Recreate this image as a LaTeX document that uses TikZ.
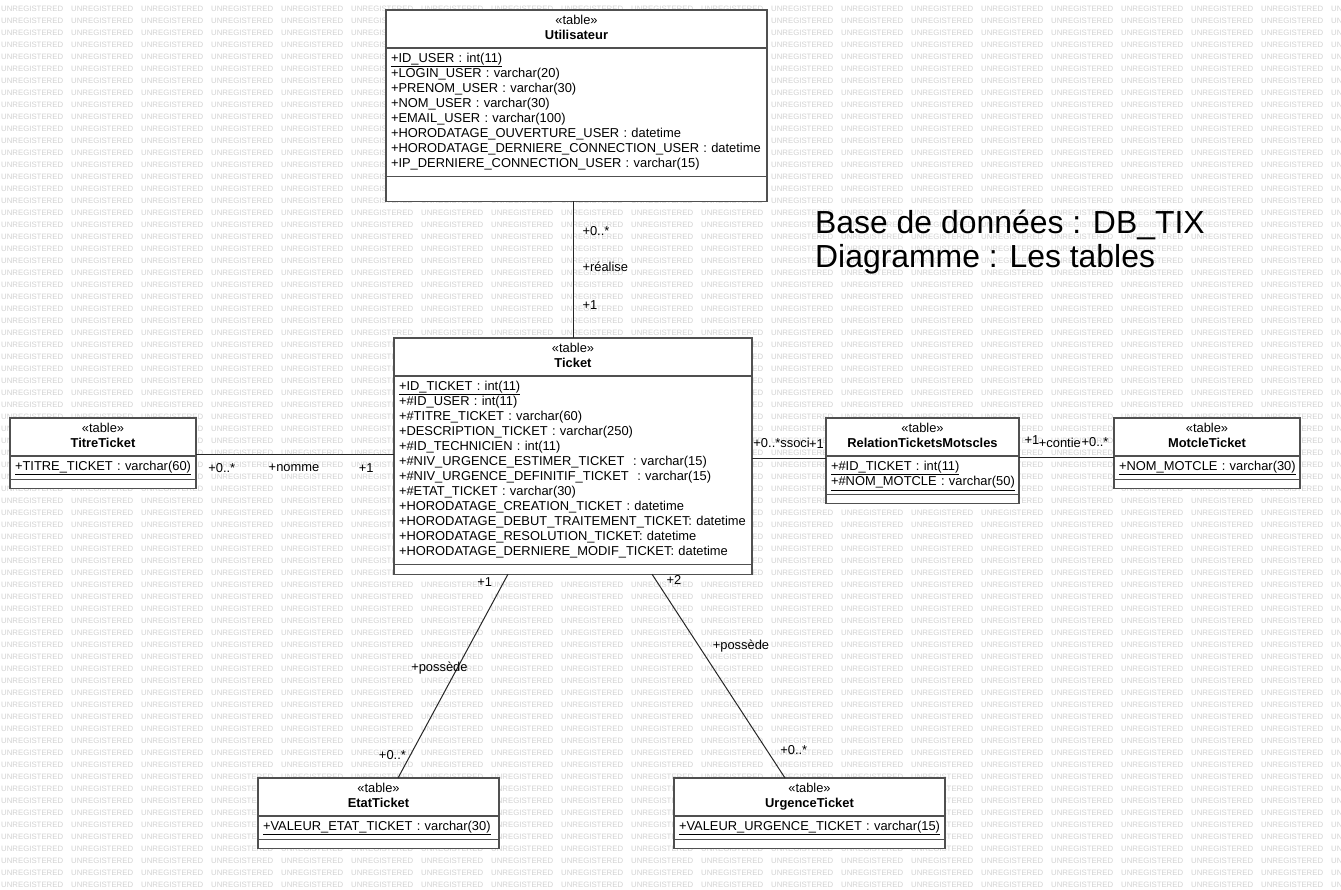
\documentclass[tikz,border=0pt]{standalone}
\usepackage{fontspec}
\setmainfont{Liberation Sans}
\usetikzlibrary{positioning,backgrounds}
\definecolor{tblline}{HTML}{505050}
\definecolor{wmark}{HTML}{D2D2D2}
\definecolor{tblshadow}{HTML}{E8E8E8}
\tikzset{tblhead/.style={draw=tblline,fill=white,line width=1.3pt,outer sep=0pt,anchor=north west,inner xsep=0pt,inner ysep=4pt}}
\tikzset{tblrows/.style={draw=tblline,fill=white,line width=1.3pt,outer sep=0pt,anchor=north west,align=left,inner xsep=5pt,inner ysep=4pt}}
\tikzset{tblops/.style={draw=tblline,fill=white,line width=1.3pt,outer sep=0pt,anchor=north west,inner sep=0pt}}
\tikzset{conn/.style={draw=black!85,line width=1pt}}
\tikzset{lbl/.style={inner sep=0pt}}
\tikzset{wmtext/.style={anchor=west,inner sep=0pt,text=wmark,font=\fontsize{7.8}{8}\selectfont}}
% #1 name, #2 top left, #3 width, #4 height of last part, #5 title, #6 rows
\newcommand\dbtable[6]{%
  \pgfmathsetmacro\rowsw{#3-10}
  \node[tblhead,minimum width=#3] (#1) at #2 {\begin{tabular}{@{}c@{}}«table»\\\textbf{#5}\end{tabular}};
  \node[tblrows,text width=\rowsw pt] (#1-rows) at (#1.south west) {\begin{tabular}{@{}l@{}}#6\end{tabular}};
  \node[tblops,minimum width=#3,minimum height=#4] (#1-ops) at (#1-rows.south west) {};
  \begin{scope}[on background layer]
    \fill[tblshadow] ([shift={(6,6)}]#1.north west) rectangle ([shift={(6,6)}]#1-ops.south east);
  \end{scope}
}

\begin{document}
\begin{tikzpicture}[x=1pt,y=-1pt,font=\fontsize{12.9}{15}\selectfont]
  \path[use as bounding box,fill=white] (0,0) rectangle (1341,889);
  % watermark
  \foreach \r in {0,...,73}{
    \foreach \c in {0,...,18}{
      \node[wmtext] (wm-\r-\c) at (\c*70+1,\r*12+9) {UNREGISTERED};
    }
    \node[wmtext] (wm-\r-19) at (1331,\r*12+9) {UN};
  }

  \dbtable{util}{(386,10)}{381}{25}{Utilisateur}{\underline{+ID\_USER : int(11)}\\+LOGIN\_USER : varchar(20)\\+PRENOM\_USER : varchar(30)\\+NOM\_USER : varchar(30)\\+EMAIL\_USER : varchar(100)\\+HORODATAGE\_OUVERTURE\_USER : datetime\\+HORODATAGE\_DERNIERE\_CONNECTION\_USER : datetime\\+IP\_DERNIERE\_CONNECTION\_USER : varchar(15)}
  \dbtable{ticket}{(394,338)}{358}{10}{Ticket}{\underline{+ID\_TICKET : int(11)}\\+\#ID\_USER : int(11)\\+\#TITRE\_TICKET : varchar(60)\\+DESCRIPTION\_TICKET : varchar(250)\\+\#ID\_TECHNICIEN : int(11)\\+\#NIV\_URGENCE\_ESTIMER\_TICKET~ : varchar(15)\\+\#NIV\_URGENCE\_DEFINITIF\_TICKET~ : varchar(15)\\+\#ETAT\_TICKET : varchar(30)\\+HORODATAGE\_CREATION\_TICKET : datetime\\+HORODATAGE\_DEBUT\_TRAITEMENT\_TICKET: datetime\\+HORODATAGE\_RESOLUTION\_TICKET: datetime\\+HORODATAGE\_DERNIERE\_MODIF\_TICKET: datetime}
  \dbtable{titre}{(10,418)}{186}{9}{TitreTicket}{\underline{+TITRE\_TICKET : varchar(60)}}
  \dbtable{rel}{(826,418)}{193}{9}{RelationTicketsMotscles}{\underline{+\#ID\_TICKET : int(11)}\\\underline{+\#NOM\_MOTCLE : varchar(50)}}
  \dbtable{motcle}{(1114,418)}{186}{9}{MotcleTicket}{\underline{+NOM\_MOTCLE : varchar(30)}}
  \dbtable{etat}{(258,778)}{241}{9}{EtatTicket}{\underline{+VALEUR\_ETAT\_TICKET : varchar(30)}}
  \dbtable{urgence}{(674,778)}{271}{9}{UrgenceTicket}{\underline{+VALEUR\_URGENCE\_TICKET : varchar(15)}}

  \node[anchor=base west,inner sep=0pt,font=\fontsize{31.9}{34}\selectfont] (title1) at (815,233) {Base de données : DB\_TIX};
  \node[anchor=base west,inner sep=0pt,font=\fontsize{31.9}{34}\selectfont] (title2) at (815,267) {Diagramme : Les tables};

  \coordinate (titre-out) at ([yshift=2]titre.south east);
  \coordinate (rel-in) at ([yshift=-2]rel.south west);
  \coordinate (motcle-in) at ([yshift=-1]motcle.south west);

  \draw[conn] (ticket.north |- util-ops.south) -- node[lbl,pos=.22,anchor=west,xshift=9]{+0..*}
    node[lbl,pos=.48,anchor=west,xshift=9]{+réalise} node[lbl,pos=.76,anchor=west,xshift=9]{+1} (ticket.north);
  \draw[conn] (titre-out) -- node[lbl,pos=.13,yshift=-14]{+0..*} node[lbl,pos=.495,yshift=-14]{+nomme}
    node[lbl,pos=.86,yshift=-14]{+1} (titre-out -| ticket.west);
  \draw[conn] (rel-in -| ticket.east) -- node[lbl,pos=.4,yshift=15]{+0..*ssoci}
    node[lbl,pos=.87,yshift=14]{+1} (rel-in);
  \draw[conn] (motcle-in -| rel.east) -- node[lbl,pos=.137,yshift=17]{+1} node[lbl,pos=.43,yshift=14]{+contie}
    node[lbl,pos=.8,yshift=15]{+0..*} (motcle-in);
  \draw[conn] ([xshift=114]ticket-ops.south west) -- node[lbl,pos=.04,xshift=-19]{+1}
    node[lbl,pos=.46,xshift=-18]{+possède} node[lbl,pos=.887,xshift=-18]{+0..*} ([xshift=140]etat.north west);
  \draw[conn] ([xshift=258]ticket-ops.south west) -- node[lbl,pos=.03,xshift=18]{+2}
    node[lbl,pos=.353,xshift=42]{+possède} node[lbl,pos=.863,xshift=27]{+0..*} ([xshift=111]urgence.north west);
\end{tikzpicture}
\end{document}
